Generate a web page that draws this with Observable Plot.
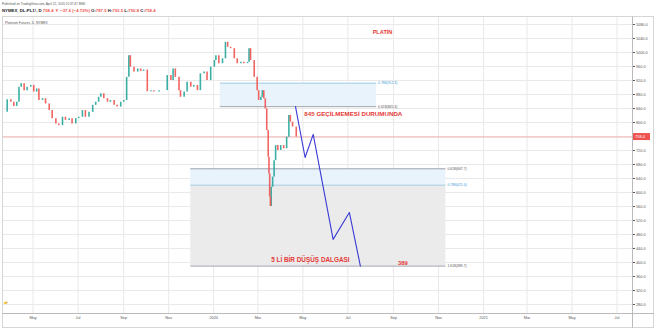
<!DOCTYPE html>
<html><head><meta charset="utf-8">
<script src="https://cdn.jsdelivr.net/npm/d3@7"></script>
<script src="https://cdn.jsdelivr.net/npm/@observablehq/plot@0.6"></script>
<style>
body{margin:0;background:#fff;}
#wrap{position:relative;width:654px;height:328px;overflow:hidden;background:#fff;}
</style></head>
<body><div id="wrap"></div>
<script>
// ---- data ----
const dates = ["2019-03-23","2019-03-27","2019-04-01","2019-04-05","2019-04-09","2019-04-12","2019-04-15","2019-04-19","2019-04-23","2019-04-28",
"2019-05-02","2019-05-06","2019-05-09","2019-05-14","2019-05-18","2019-05-23","2019-05-27","2019-06-01","2019-06-05","2019-06-10",
"2019-06-14","2019-06-19","2019-06-23","2019-06-28","2019-07-02","2019-07-07","2019-07-11","2019-07-16","2019-07-21","2019-07-25",
"2019-07-29","2019-08-01","2019-08-05","2019-08-10","2019-08-14","2019-08-19","2019-08-23","2019-08-28","2019-09-01","2019-09-05",
"2019-09-08","2019-09-10","2019-09-15","2019-09-20","2019-09-24","2019-09-28","2019-10-03","2019-10-08","2019-10-12","2019-10-19",
"2019-10-26","2019-10-30","2019-11-04","2019-11-07","2019-11-10","2019-11-15","2019-11-17","2019-11-22","2019-11-26","2019-12-01",
"2019-12-05","2019-12-10","2019-12-14","2019-12-19","2019-12-23","2019-12-28","2020-01-02","2020-01-04","2020-01-08","2020-01-13",
"2020-01-17","2020-01-20","2020-01-24","2020-01-29","2020-02-02","2020-02-07","2020-02-11","2020-02-16","2020-02-18","2020-02-20",
"2020-02-25","2020-02-29","2020-03-02","2020-03-05","2020-03-07","2020-03-09","2020-03-11","2020-03-13","2020-03-15","2020-03-16",
"2020-03-17","2020-03-18","2020-03-19","2020-03-21","2020-03-23","2020-03-25","2020-03-28","2020-04-01","2020-04-05","2020-04-09",
"2020-04-12","2020-04-14","2020-04-17","2020-04-22"];
const closes = [829,865,858,846,858,901,911,891,901,906,
887,896,863,868,853,834,811,796,791,815,
806,811,796,811,815,834,815,829,849,858,
872,882,868,858,863,849,844,858,863,929,
991,958,944,953,946,950,888,891,887,891,
891,934,920,953,929,891,872,887,915,901,
906,891,939,944,920,958,977,991,968,982,
1029,1015,1011,982,968,972,968,972,1011,977,
929,891,863,872,891,868,839,777,701,653,
587,560,615,644,691,734,720,734,725,758,
820,801,787,758.4];

const fibUpperLevels = [0.618, 0.786];
const fibUpperPrices = [845.3, 912.3];
const fibUpperSpan = ["2020-01-10", "2020-08-09"];
const fibLowerLevels = [0.618, 0.786, 1.618];
const fibLowerPrices = [667.7, 621.0, 389.7];
const fibLowerSpan = ["2019-12-01", "2020-11-11"];

const waveDates = ["2020-04-21","2020-05-04","2020-05-15","2020-06-11","2020-07-03","2020-07-18"];
const waveValues = [845.3, 700, 766, 466, 543, 389.7];

const yTicks = d3.range(280, 1081, 40);
const titleText = "Platinum Futures, D, NYMEX";
const publishedText = "Published on TradingView.com, April 22, 2020 15:37:47 MSK";
const headerParts = [["NYMEX_DL:PL1!, D ", "#222"], ["758.4 ▼ −37.6 (−4.72%) ", "#ef5350"], ["O:", "#222"], ["787.5 ", "#ef5350"],
  ["H:", "#222"], ["793.5 ", "#ef5350"], ["L:", "#222"], ["750.8 ", "#ef5350"], ["C:", "#222"], ["758.4", "#ef5350"]];
const noteTitle = "PLATİN";
const noteLevel = "845 GEÇİLMEMESİ DURUMUNDA";
const noteWave = "5 Lİ BİR DÜŞÜŞ DALGASI";
const noteTarget = "389";

// ---- derived tables ----
const P = d => new Date(d);
const candles = dates.map((d, i) => ({date: P(d), open: i ? closes[i - 1] : closes[0], close: closes[i]}));
const up = candles.filter(c => c.close >= c.open);
const down = candles.filter(c => c.close < c.open);
const lastClose = closes[closes.length - 1];
const wave = waveDates.map((d, i) => ({date: P(d), value: waveValues[i]}));
const fibU = fibUpperLevels.map((l, i) => ({level: l, price: fibUpperPrices[i], x1: P(fibUpperSpan[0]), x2: P(fibUpperSpan[1]),
  label: `${l}(${fibUpperPrices[i].toFixed(1)})`}));
const fibL = fibLowerLevels.map((l, i) => ({level: l, price: fibLowerPrices[i], x1: P(fibLowerSpan[0]), x2: P(fibLowerSpan[1]),
  label: `${l}(${fibLowerPrices[i].toFixed(1)})`}));
const fibAll = fibU.concat(fibL);
const xDomain = [P("2019-03-22"), P("2021-07-22")];
const xTicks = d3.utcMonth.every(2).range(P("2019-04-01"), xDomain[1]);
const yLabelTicks = yTicks.filter(t => Math.abs(t - lastClose) > 12);
const lineColor = l => l === 0.786 ? "#8dc4e6" : "#8a8d96";
const labelColor = l => l === 0.786 ? "#3d9ad6" : "#555";

const FONT = "Liberation Sans, Arial, sans-serif";

const chrome = (index, scales, values, dim) => {
  const g = d3.create("svg:g").attr("font-family", FONT).attr("text-anchor", "start");
  g.append("rect").attr("x", 2.5).attr("y", 16.5).attr("width", 651).attr("height", 311)
    .attr("fill", "none").attr("stroke", "#d6d6d6");
  g.append("line").attr("x1", 2.5).attr("x2", 654).attr("y1", dim.height - dim.marginBottom + 0.5).attr("y2", dim.height - dim.marginBottom + 0.5).attr("stroke", "#bbb");
  g.append("line").attr("x1", dim.width - dim.marginRight + 0.5).attr("x2", dim.width - dim.marginRight + 0.5).attr("y1", 16.5).attr("y2", 328).attr("stroke", "#bbb");
  g.append("text").attr("x", 2).attr("y", 5).attr("font-size", 3.1).attr("fill", "#555").text(publishedText);
  const t = g.append("text").attr("x", 2).attr("y", 12.3).attr("font-size", 4.3).attr("font-weight", "bold");
  headerParts.forEach(([s, c]) => t.append("tspan").attr("fill", c).text(s));
  g.append("text").attr("x", 5).attr("y", 24.4).attr("font-size", 3.3).attr("fill", "#555").text(titleText);
  const yy = scales.y(lastClose);
  const x0 = dim.width - dim.marginRight;
  g.append("rect").attr("x", x0 + 1).attr("y", yy - 3.5).attr("width", 17).attr("height", 7).attr("fill", "#ef5350");
  g.append("text").attr("x", x0 + 3).attr("y", yy).attr("dy", "0.35em").attr("font-size", 4).attr("fill", "#fff").text(lastClose.toFixed(1));
  g.append("text").attr("x", 4).attr("y", 304).attr("font-size", 5).attr("font-weight", "bold").attr("fill", "#f0b429").text("▰");
  return g.node();
};

const plot = Plot.plot({
  width: 654, height: 328,
  marginTop: 17, marginBottom: 15, marginLeft: 3, marginRight: 22,
  style: {fontFamily: FONT, background: "#fff"},
  x: {type: "utc", domain: xDomain},
  y: {domain: [254.3, 1100]},
  marks: [
    Plot.gridY(yTicks, {stroke: "#e9e9e9", strokeOpacity: 1}),
    Plot.gridX(xTicks, {stroke: "#e9e9e9", strokeOpacity: 1}),
    Plot.rect([0], {x1: () => fibU[0].x1, x2: () => fibU[0].x2, y1: () => fibUpperPrices[0], y2: () => fibUpperPrices[1], fill: "#e8f3fb"}),
    Plot.rect([0], {x1: () => fibL[0].x1, x2: () => fibL[0].x2, y1: () => fibLowerPrices[0], y2: () => fibLowerPrices[1], fill: "#e8f3fb"}),
    Plot.rect([0], {x1: () => fibL[0].x1, x2: () => fibL[0].x2, y1: () => fibLowerPrices[1], y2: () => fibLowerPrices[2], fill: "#ebebeb"}),
    ...fibAll.map(f => Plot.ruleY([f], {x1: "x1", x2: "x2", y: "price", stroke: lineColor(f.level), strokeWidth: 0.8})),
    ...fibAll.map(f => Plot.text([f], {x: "x2", y: "price", text: "label", textAnchor: "start", dx: 1.5, fontSize: 3.4, fill: labelColor(f.level)})),
    Plot.ruleY([lastClose], {stroke: "#f09a9a", strokeWidth: 0.7}),
    Plot.ruleX(up, {x: "date", y1: "open", y2: "close", stroke: "#26a69a", strokeWidth: 1.6, strokeOpacity: 0.9}),
    Plot.ruleX(down, {x: "date", y1: "open", y2: "close", stroke: "#ef5350", strokeWidth: 1.6, strokeOpacity: 0.9}),
    Plot.line(wave, {x: "date", y: "value", stroke: "#3a3ad6", strokeWidth: 1.1}),
    Plot.text([noteTitle], {x: () => P("2020-08-17"), y: () => 1058.6, text: d => d, fill: "#e53935", fontWeight: "bold", fontSize: 5.6}),
    Plot.text([noteLevel], {x: () => P("2020-05-03"), y: () => 822.9, text: d => d, textAnchor: "start", fill: "#e53935", fontWeight: "bold", fontSize: 6.2}),
    Plot.text([noteWave], {x: () => P("2020-03-19"), y: () => 408.6, text: d => d, textAnchor: "start", fill: "#e53935", fontWeight: "bold", fontSize: 6.4}),
    Plot.text([noteTarget], {x: () => P("2020-09-07"), y: () => 397, text: d => d, textAnchor: "start", fill: "#e53935", fontWeight: "bold", fontSize: 5.8}),
    Plot.axisY(yLabelTicks, {anchor: "right", tickSize: 2, tickPadding: 1.5, tickFormat: d => d.toFixed(1), fontSize: 3.8, color: "#555"}),
    Plot.axisX(xTicks, {anchor: "bottom", tickSize: 0, tickPadding: 3, fontSize: 3.8, color: "#555",
      tickFormat: d => d.getUTCMonth() === 0 ? String(d.getUTCFullYear()) : d3.utcFormat("%b")(d)}),
    chrome
  ]
});
document.getElementById("wrap").appendChild(plot);
</script>
</body></html>
